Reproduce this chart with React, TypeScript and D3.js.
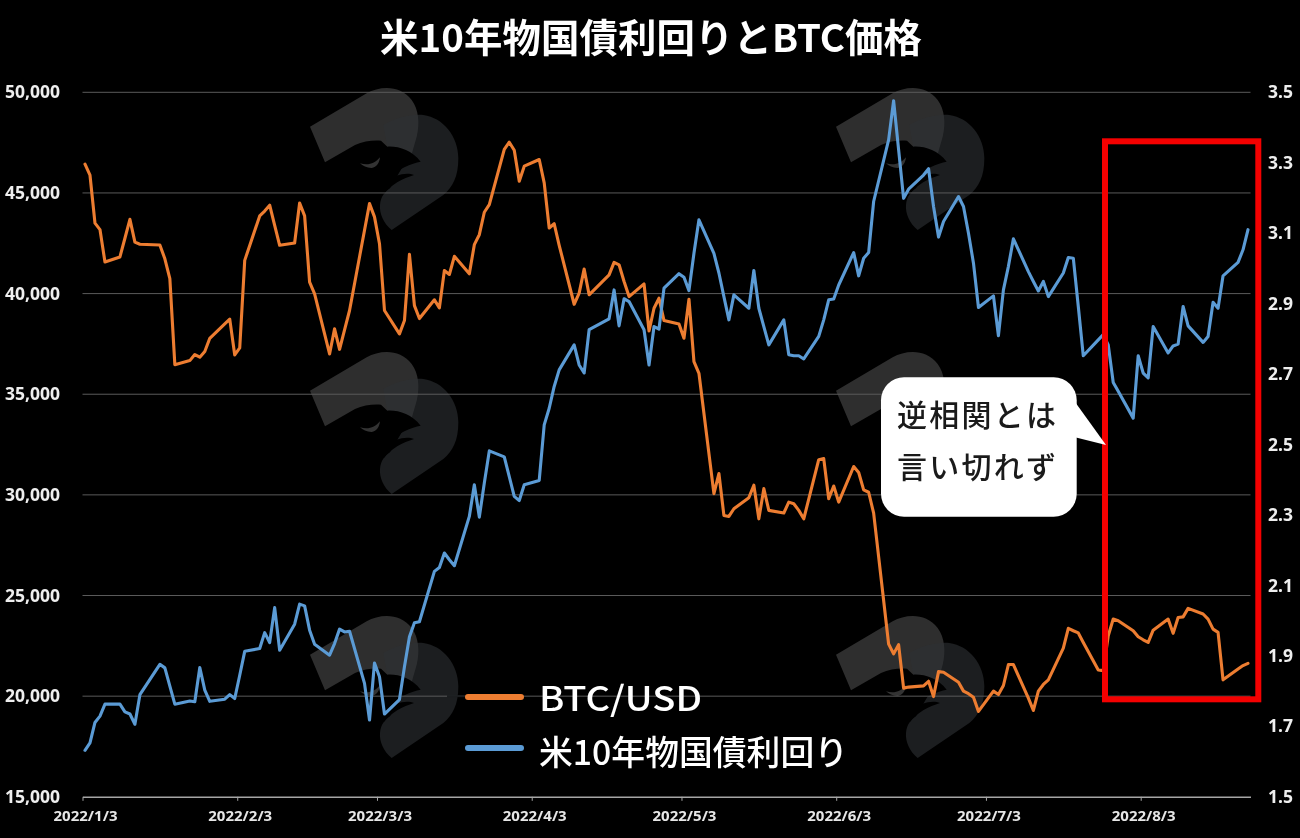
import { useEffect, useRef } from 'react'
import * as d3 from 'd3'

// values, one block per month (trading days only)
const daysJan = [3, 4, 5, 6, 7, 10, 11, 12, 13, 14, 18, 19, 20, 21, 24, 25, 26, 27, 28, 31]
const btcJan = [46430, 45880, 43500, 43180, 41570, 41820, 42750, 43690, 42560, 42450, 42410, 41730, 40740, 36470, 36670, 36970, 36840, 37120, 37780, 38500]
const ustJan = [1.632, 1.653, 1.711, 1.729, 1.763, 1.763, 1.741, 1.735, 1.706, 1.79, 1.876, 1.866, 1.814, 1.763, 1.772, 1.77, 1.867, 1.803, 1.771, 1.777]

const daysFeb = [1, 2, 3, 4, 7, 8, 9, 10, 11, 14, 15, 16, 17, 18, 21, 22, 23, 24, 25, 28]
const btcFeb = [38730, 36950, 37300, 41650, 43860, 44100, 44390, 43390, 42400, 42510, 44500, 43860, 40570, 39990, 37000, 38250, 37230, 38200, 39160, 43150]
const ustFeb = [1.79, 1.779, 1.845, 1.913, 1.921, 1.966, 1.938, 2.037, 1.916, 1.99, 2.047, 2.042, 1.973, 1.933, 1.902, 1.935, 1.976, 1.968, 1.97, 1.822]

const daysMar = [1, 2, 3, 4, 7, 8, 9, 10, 11, 14, 15, 16, 17, 18, 21, 22, 23, 24, 25, 28, 29, 30, 31]
const btcMar = [44470, 43810, 42480, 39160, 38000, 38660, 41950, 39400, 38760, 39690, 39290, 41150, 40950, 41850, 40980, 42430, 42925, 44040, 44420, 47160, 47520, 47120, 45580]
const ustMar = [1.718, 1.88, 1.841, 1.735, 1.776, 1.869, 1.954, 1.994, 1.997, 2.14, 2.151, 2.192, 2.173, 2.156, 2.296, 2.386, 2.294, 2.391, 2.482, 2.465, 2.409, 2.353, 2.341]

const daysApr = [1, 4, 5, 6, 7, 8, 11, 12, 13, 14, 18, 19, 20, 21, 22, 25, 26, 27, 28, 29]
const btcApr = [46330, 46660, 45500, 43260, 43470, 42400, 39470, 40020, 41215, 39940, 40930, 41550, 41430, 40600, 39850, 40480, 38140, 39270, 39770, 38660]
const ustApr = [2.386, 2.398, 2.556, 2.603, 2.665, 2.712, 2.783, 2.726, 2.703, 2.826, 2.857, 2.939, 2.837, 2.914, 2.906, 2.826, 2.726, 2.835, 2.828, 2.944]

const daysMay = [2, 3, 4, 5, 6, 9, 10, 11, 12, 13, 16, 17, 18, 19, 20, 23, 24, 25, 26, 27, 30, 31]
const btcMay = [38490, 37780, 39720, 36620, 36040, 30060, 31060, 28980, 28930, 29310, 29860, 30480, 28810, 30310, 29230, 29100, 29640, 29560, 29230, 28810, 31750, 31800]
const ustMay = [2.985, 2.975, 2.937, 3.043, 3.138, 3.043, 2.987, 2.92, 2.854, 2.925, 2.887, 2.994, 2.887, 2.835, 2.783, 2.854, 2.755, 2.752, 2.752, 2.743, 2.807, 2.854]

const daysJun = [1, 2, 3, 6, 7, 8, 9, 10, 13, 14, 15, 16, 17, 20, 21, 22, 23, 24, 27, 28, 29, 30]
const btcJun = [29810, 30440, 29640, 31410, 31110, 30250, 30130, 29090, 22590, 22100, 22560, 20400, 20450, 20510, 20740, 19980, 21220, 21190, 20690, 20250, 20120, 19950]
const ustJun = [2.911, 2.913, 2.953, 3.045, 2.979, 3.029, 3.045, 3.19, 3.365, 3.476, 3.337, 3.199, 3.225, 3.265, 3.283, 3.176, 3.089, 3.133, 3.204, 3.176, 3.1, 3.015]

const daysJul = [1, 4, 5, 6, 7, 8, 11, 12, 13, 14, 15, 18, 19, 20, 21, 22, 25, 26, 27, 28, 29]
const btcJul = [19240, 20250, 20080, 20530, 21570, 21570, 19900, 19290, 20250, 20580, 20810, 22390, 23370, 23250, 23140, 22670, 21300, 21270, 23000, 23830, 23750]
const ustJul = [2.889, 2.922, 2.809, 2.939, 3.006, 3.084, 2.991, 2.963, 2.936, 2.963, 2.92, 2.987, 3.031, 3.029, 2.892, 2.752, 2.797, 2.812, 2.783, 2.676, 2.651]

const daysAug = [1, 2, 3, 4, 5, 8, 9, 10, 11, 12, 15, 16, 17, 18, 19, 22, 23, 24]
const btcAug = [23250, 22950, 22800, 22670, 23280, 23830, 23120, 23910, 23940, 24360, 24080, 23830, 23330, 23170, 20810, 21350, 21520, 21630]
const ustAug = [2.575, 2.752, 2.703, 2.689, 2.835, 2.76, 2.78, 2.785, 2.892, 2.837, 2.79, 2.807, 2.904, 2.887, 2.979, 3.017, 3.053, 3.11]

const btcTicks = [15000, 20000, 25000, 30000, 35000, 40000, 45000, 50000]
const ustTicks = [1.5, 1.7, 1.9, 2.1, 2.3, 2.5, 2.7, 2.9, 3.1, 3.3, 3.5]
const dateTickMonths = [0, 1, 2, 3, 4, 5, 6, 7]

const months = [
  { days: daysJan, btc: btcJan, ust: ustJan },
  { days: daysFeb, btc: btcFeb, ust: ustFeb },
  { days: daysMar, btc: btcMar, ust: ustMar },
  { days: daysApr, btc: btcApr, ust: ustApr },
  { days: daysMay, btc: btcMay, ust: ustMay },
  { days: daysJun, btc: btcJun, ust: ustJun },
  { days: daysJul, btc: btcJul, ust: ustJul },
  { days: daysAug, btc: btcAug, ust: ustAug },
]

const rows = months.flatMap((m, mi) =>
  m.days.map((day, i) => ({ date: new Date(Date.UTC(2022, mi, day)), btc: m.btc[i], ust: m.ust[i] }))
)

const ORANGE = '#ed7d31'
const BLUE = '#5b9bd5'
const NUM_FONT = '"Noto Sans", sans-serif'
const JP_FONT = '"Noto Sans CJK JP", sans-serif'

// raven logo, drawn in 3x units from its top left corner
const logoBand = 'M30,140 L200,40 C240,18 300,14 335,60 C356,88 360,130 350,170 L330,240 L170,230 L75,247 Z'
const logoBody = 'M250,135 C290,112 335,102 370,105 C430,113 475,170 475,235 C475,290 458,322 430,345 L275,450 C250,430 238,400 240,375 C242,350 255,335 270,325 L320,240 L262,200 Z'
const logoHead = 'M75,247 L165,195 C190,183 220,180 243,182 L262,200 C295,198 335,210 362,245 C335,250 295,265 255,302 C285,285 320,275 342,285 C310,295 270,315 252,342 L170,320 Z'
const logoEye = 'M180,250 C205,258 225,250 240,232 C238,250 230,262 215,264 C200,264 188,258 180,250 Z'
const logoSpots = [[0, 0], [526, 0], [0, 264], [526, 264], [0, 528], [526, 528]]

export default function App() {
  const svgRef = useRef<SVGSVGElement>(null)

  useEffect(() => {
    if (!svgRef.current) return

    const svg = d3.select(svgRef.current)
    svg.selectAll('*').remove()

    document.body.style.background = '#000'

    const left = 82.5
    const right = 1250.5
    const top = 92.3
    const bottom = 796.8

    svg.append('rect').attr('width', 1300).attr('height', 838).attr('fill', '#000')

    const xScale = d3.scaleUtc()
      .domain([new Date(Date.UTC(2022, 0, 3)), new Date(Date.UTC(2022, 7, 25))])
      .range([left, right])
    const btcScale = d3.scaleLinear().domain([15000, 50000]).range([bottom, top])
    const ustScale = d3.scaleLinear().domain([1.5, 3.5]).range([bottom, top])

    // points sit in the middle of their day on a date axis
    const midDay = (d: Date) => xScale(d3.utcHour.offset(d, 12))

    // watermark
    const logos = svg.selectAll('.logo')
      .data(logoSpots)
      .enter().append('g')
      .attr('class', 'logo')
      .attr('transform', d => `translate(${300 + d[0]},${80 + d[1]}) scale(${1 / 3})`)
    logos.append('path').attr('d', logoBand).attr('fill', '#2e2e2e')
    logos.append('path').attr('d', logoBody).attr('fill', 'rgb(45,48,52)').attr('fill-opacity', 0.62)
    logos.append('path').attr('d', logoHead).attr('fill', '#000')
    logos.append('path').attr('d', logoEye).attr('fill', '#333')

    // gridlines
    svg.append('g')
      .selectAll('line')
      .data(btcTicks.slice(1))
      .enter().append('line')
      .attr('x1', left)
      .attr('x2', right)
      .attr('y1', d => btcScale(d))
      .attr('y2', d => btcScale(d))
      .attr('stroke', '#5a5a5a')
      .attr('stroke-width', 1)

    // the legend box hides a short piece of the 20,000 gridline
    svg.append('line')
      .attr('x1', 447)
      .attr('x2', 468)
      .attr('y1', btcScale(20000))
      .attr('y2', btcScale(20000))
      .attr('stroke', '#1b1d1f')
      .attr('stroke-width', 2)

    const btcLine = d3.line<(typeof rows)[number]>()
      .x(d => midDay(d.date))
      .y(d => btcScale(d.btc))
    const ustLine = d3.line<(typeof rows)[number]>()
      .x(d => midDay(d.date))
      .y(d => ustScale(d.ust))

    svg.append('path')
      .attr('d', btcLine(rows))
      .attr('fill', 'none')
      .attr('stroke', ORANGE)
      .attr('stroke-width', 3.1)
      .attr('stroke-linejoin', 'round')
      .attr('stroke-linecap', 'round')

    svg.append('path')
      .attr('d', ustLine(rows))
      .attr('fill', 'none')
      .attr('stroke', BLUE)
      .attr('stroke-width', 3.1)
      .attr('stroke-linejoin', 'round')
      .attr('stroke-linecap', 'round')

    // axes
    const leftAxis = svg.append('g')
      .attr('transform', 'translate(60,0)')
      .call(d3.axisLeft(btcScale).tickValues(btcTicks).tickFormat(d3.format(',') as any).tickSize(0).tickPadding(0))
    leftAxis.select('.domain').remove()
    leftAxis.selectAll('text')
      .style('font-family', NUM_FONT)
      .style('font-size', '17.5px')
      .style('font-weight', '700')
      .style('fill', '#eee')

    const rightAxis = svg.append('g')
      .attr('transform', 'translate(1268,0)')
      .call(d3.axisRight(ustScale).tickValues(ustTicks).tickFormat(d3.format('.1f') as any).tickSize(0).tickPadding(0))
    rightAxis.select('.domain').remove()
    rightAxis.selectAll('text')
      .style('font-family', NUM_FONT)
      .style('font-size', '17.5px')
      .style('font-weight', '700')
      .style('fill', '#eee')

    const bottomAxis = svg.append('g')
      .attr('transform', `translate(0,${bottom})`)
      .call(d3.axisBottom(xScale)
        .tickValues(dateTickMonths.map(m => new Date(Date.UTC(2022, m, 3))))
        .tickFormat((d: any) => `2022/${d.getUTCMonth() + 1}/${d.getUTCDate()}`)
        .tickSizeInner(4)
        .tickSizeOuter(0))
    bottomAxis.select('.domain').attr('stroke', '#a6a6a6').attr('stroke-width', 1.4)
    bottomAxis.selectAll('line').attr('stroke', '#a6a6a6')
    bottomAxis.selectAll('text')
      .attr('y', 14)
      .attr('dx', 2.5)
      .style('font-family', NUM_FONT)
      .style('font-size', '15px')
      .style('font-weight', '700')
      .style('fill', '#e6e6e6')

    // title
    svg.append('text')
      .attr('x', 651)
      .attr('y', 52)
      .attr('text-anchor', 'middle')
      .attr('textLength', 542)
      .style('font-family', JP_FONT)
      .style('font-size', '38.4px')
      .style('font-weight', '700')
      .style('fill', '#fff')
      .text('米10年物国債利回りとBTC価格')

    // legend
    const legendItems = [
      { label: 'BTC/USD', color: ORANGE, lineY: 697, textY: 711, width: 163 },
      { label: '米10年物国債利回り', color: BLUE, lineY: 748, textY: 765, width: 309 },
    ]
    const legend = svg.append('g').attr('class', 'legend')
    legendItems.forEach(item => {
      legend.append('line')
        .attr('x1', 468)
        .attr('x2', 521)
        .attr('y1', item.lineY)
        .attr('y2', item.lineY)
        .attr('stroke', item.color)
        .attr('stroke-width', 6)
        .attr('stroke-linecap', 'round')
      legend.append('text')
        .attr('x', 539)
        .attr('y', item.textY)
        .attr('textLength', item.width)
        .attr('lengthAdjust', 'spacingAndGlyphs')
        .style('font-family', JP_FONT)
        .style('font-size', '34px')
        .style('font-weight', '500')
        .style('fill', '#fff')
        .text(item.label)
    })

    // red highlight box
    svg.append('rect')
      .attr('x', 1105)
      .attr('y', 141.3)
      .attr('width', 153.3)
      .attr('height', 558)
      .attr('fill', 'none')
      .attr('stroke', '#f40000')
      .attr('stroke-width', 6)

    // callout
    svg.append('path')
      .attr('d', 'M1070,395 L1106,445 L1070,436 Z')
      .attr('fill', '#fff')
    svg.append('rect')
      .attr('x', 881)
      .attr('y', 377.3)
      .attr('width', 195.7)
      .attr('height', 139.4)
      .attr('rx', 23)
      .attr('fill', '#fff')
    const calloutLines = [
      { text: '逆相関とは', y: 426 },
      { text: '言い切れず', y: 478 },
    ]
    calloutLines.forEach(line => {
      svg.append('text')
        .attr('x', 897)
        .attr('y', line.y)
        .attr('textLength', 159)
        .style('font-family', JP_FONT)
        .style('font-size', '30px')
        .style('font-weight', '500')
        .style('fill', '#1a1a1a')
        .text(line.text)
    })
  }, [])

  return (
    <svg
      ref={svgRef}
      width={1300}
      height={838}
      style={{ position: 'absolute', left: 0, top: 0, display: 'block', filter: 'blur(0.5px)' }}
    ></svg>
  )
}
